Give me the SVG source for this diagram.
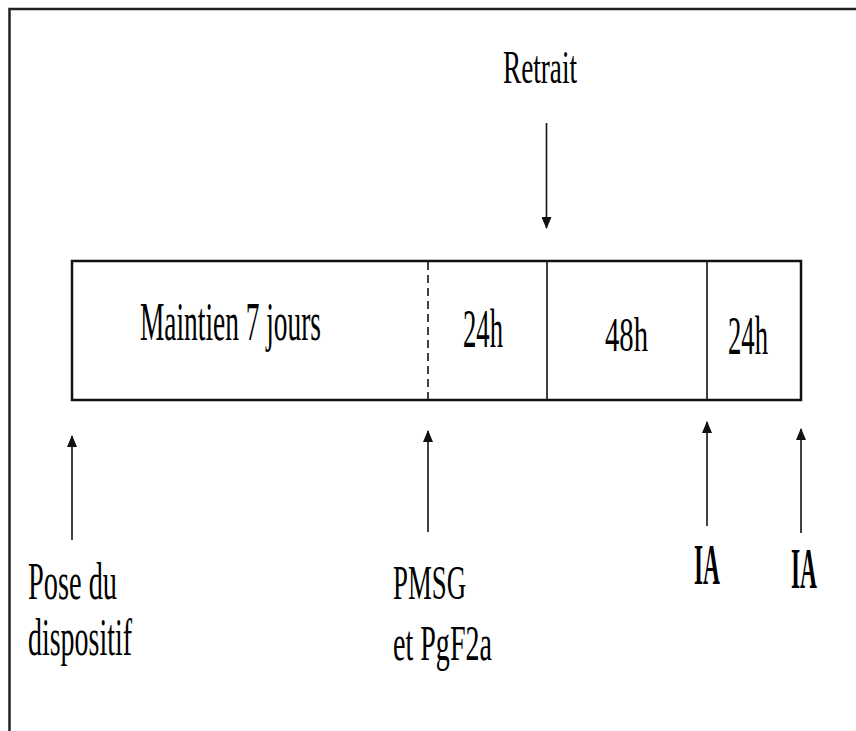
<svg xmlns="http://www.w3.org/2000/svg" width="856" height="731" viewBox="0 0 856 731">
<style>
  text { font-family: "Liberation Serif", "Times New Roman", serif; font-size: 28px; fill: #000; }
  .b { font-weight: bold; }
  .frame { stroke: #222; stroke-width: 2.5; fill: none; }
  .box { stroke: #111; stroke-width: 2.5; fill: #fff; }
  .div { stroke: #111; stroke-width: 1.6; }
  .dash { stroke: #111; stroke-width: 1.6; stroke-dasharray: 8 5; }
  .arr { stroke: #111; stroke-width: 1.6; fill: none; marker-end: url(#ah); }
</style>
<defs>
  <marker id="ah" viewBox="0 0 12 10" refX="11" refY="5" markerWidth="12" markerHeight="10" markerUnits="userSpaceOnUse" orient="auto">
    <path d="M0,0 L12,5 L0,10 Z" fill="#111"/>
  </marker>
</defs>
<rect width="856" height="731" fill="#fff"/>
<g id="frame">
  <polyline class="frame" points="9.5,731 9.5,9 856,9"/>
</g>
<g id="timeline">
  <rect class="box" x="72" y="261" width="729" height="139"/>
  <line class="dash" x1="428" y1="262" x2="428" y2="399"/>
  <line class="div" x1="547" y1="262" x2="547" y2="399"/>
  <line class="div" x1="707" y1="262" x2="707" y2="399"/>
</g>
<g id="seg-maintien"><text transform="translate(140,340) scale(1,1.98)" textLength="181" lengthAdjust="spacingAndGlyphs">Maintien 7 jours</text></g>
<g id="seg-24h-1"><text transform="translate(463,347) scale(1,1.98)" textLength="40" lengthAdjust="spacingAndGlyphs">24h</text></g>
<g id="seg-48h"><text transform="translate(605,351) scale(1,1.7)" textLength="43" lengthAdjust="spacingAndGlyphs">48h</text></g>
<g id="seg-24h-2"><text transform="translate(728,354) scale(1,1.98)" textLength="40" lengthAdjust="spacingAndGlyphs">24h</text></g>
<g id="connectors">
  <line class="arr" x1="546.5" y1="123" x2="546.5" y2="228"/>
  <line class="arr" x1="72" y1="540" x2="72" y2="436"/>
  <line class="arr" x1="428" y1="532" x2="428" y2="431"/>
  <line class="arr" x1="707" y1="526" x2="707" y2="422"/>
  <line class="arr" x1="801" y1="533" x2="801" y2="429"/>
</g>
<g id="retrait"><text transform="translate(503,83) scale(1,1.68)" textLength="74" lengthAdjust="spacingAndGlyphs">Retrait</text></g>
<g id="pose">
  <text transform="translate(28,599) scale(1,1.9)" textLength="89" lengthAdjust="spacingAndGlyphs">Pose du</text>
  <text transform="translate(28,655) scale(1,1.85)" textLength="104" lengthAdjust="spacingAndGlyphs">dispositif</text>
</g>
<g id="pmsg">
  <text transform="translate(393,599) scale(1,1.75)" textLength="73" lengthAdjust="spacingAndGlyphs">PMSG</text>
  <text transform="translate(393,660) scale(1,1.78)" textLength="99" lengthAdjust="spacingAndGlyphs">et PgF2a</text>
</g>
<g id="ia-1"><text class="b" transform="translate(694,584) scale(1,2)" textLength="26" lengthAdjust="spacingAndGlyphs">IA</text></g>
<g id="ia-2"><text class="b" transform="translate(791,588) scale(1,2)" textLength="26" lengthAdjust="spacingAndGlyphs">IA</text></g>
</svg>
